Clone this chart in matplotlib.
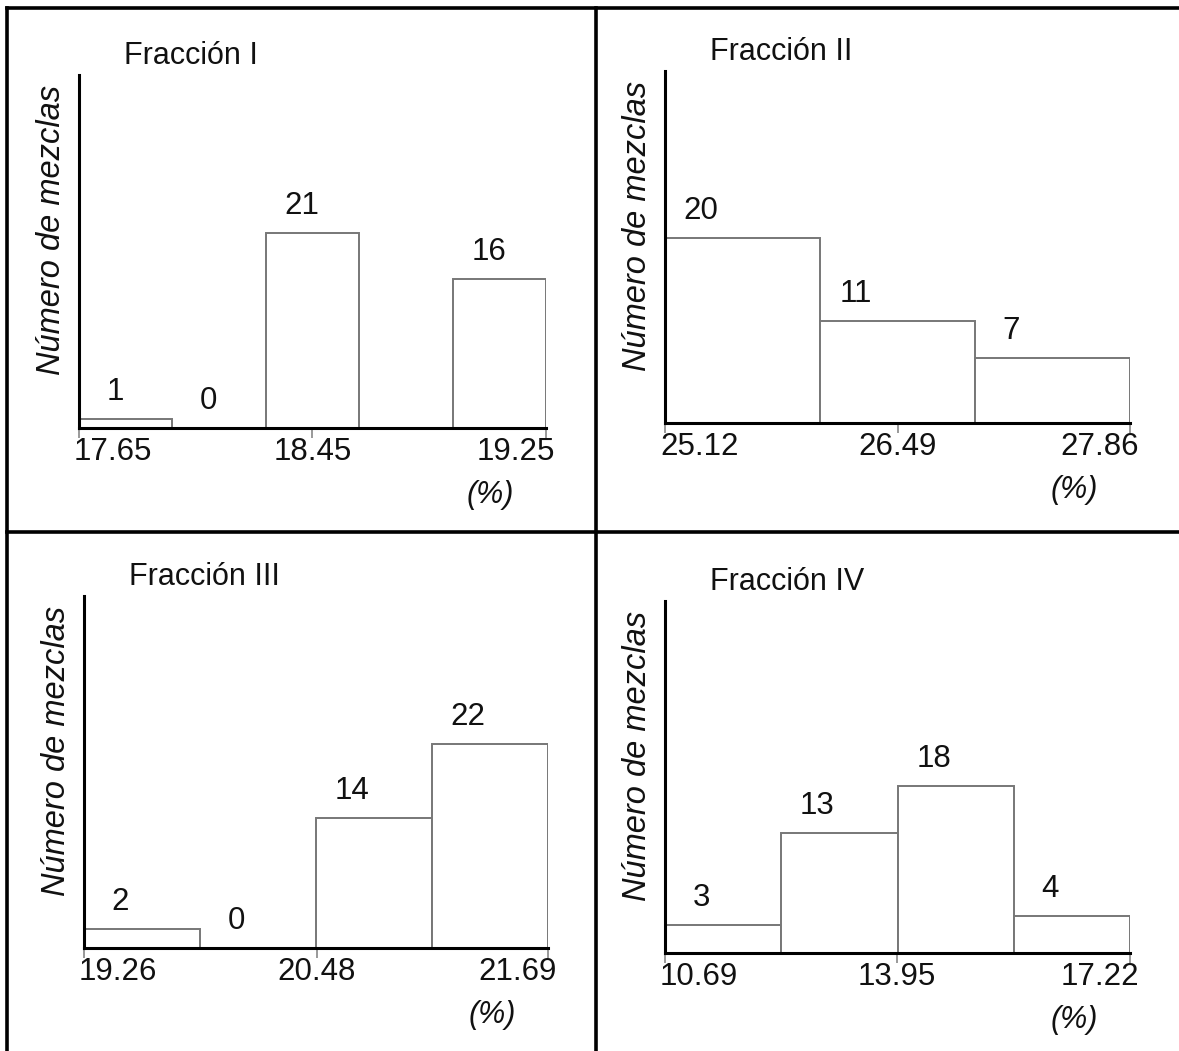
import matplotlib.pyplot as plt
from matplotlib.lines import Line2D

plt.rcParams['font.family'] = ['Liberation Sans', 'DejaVu Sans']
plt.rcParams['font.size'] = 22

# Data for the four fractions
titles = ['Fracción I', 'Fracción II', 'Fracción III', 'Fracción IV']

edges_1 = [17.65, 17.97, 18.29, 18.93]
counts_1 = [1, 0, 21, 16]
width_1 = 0.32
ticks_1 = [17.65, 18.45, 19.25]

edges_2 = [25.12, 26.033, 26.947]
counts_2 = [20, 11, 7]
width_2 = 0.913
ticks_2 = [25.12, 26.49, 27.86]

edges_3 = [19.26, 19.8675, 20.475, 21.0825]
counts_3 = [2, 0, 14, 22]
width_3 = 0.6075
ticks_3 = [19.26, 20.48, 21.69]

edges_4 = [10.69, 12.3225, 13.955, 15.5875]
counts_4 = [3, 13, 18, 4]
width_4 = 1.6325
ticks_4 = [10.69, 13.95, 17.22]

panels = [
    (edges_1, counts_1, width_1, ticks_1),
    (edges_2, counts_2, width_2, ticks_2),
    (edges_3, counts_3, width_3, ticks_3),
    (edges_4, counts_4, width_4, ticks_4),
]

W, H = 1179, 1051
fig = plt.figure(figsize=(W / 100, H / 100), dpi=100)

# axes boxes in pixels (left, top, right, bottom)
boxes = [(79, 75, 546, 428), (665, 71, 1130, 423),
         (84, 596, 548, 948), (665, 601, 1130, 953)]

txt = '#111111'
for (x0, y0, x1, y1), title, (edges, counts, width, ticks) in zip(boxes, titles, panels):
    ax = fig.add_axes([x0 / W, 1 - y1 / H, (x1 - x0) / W, (y1 - y0) / H])
    ax.set_xlim(ticks[0], ticks[-1])
    ax.set_ylim(0, 38)
    ax.bar(edges, counts, width=width, align='edge', facecolor='white',
           edgecolor='#777777', linewidth=1.4, zorder=2)
    for e, c in zip(edges, counts):
        ax.annotate(str(c), xy=(e, c), xytext=(36, 27), textcoords='offset pixels',
                    ha='center', va='center', fontsize=22.5, color=txt)

    for s in ['top', 'right']:
        ax.spines[s].set_visible(False)
    ax.spines['left'].set_linewidth(2.2)
    ax.spines['bottom'].set_linewidth(2.2)
    ax.spines['bottom'].set_zorder(3)
    ax.set_yticks([])
    ax.set_xticks(ticks)
    ax.tick_params(axis='x', direction='out', length=7, width=1.2, color='#888888',
                   labelbottom=False)

    aligns = [('left', -5), ('center', 0), ('right', 9)]
    for t, (ha, dx) in zip(ticks, aligns):
        ax.annotate(f'{t:.2f}', xy=(t, 0), xycoords=('data', 'axes fraction'),
                    xytext=(dx, -9), textcoords='offset pixels',
                    ha=ha, va='top', fontsize=22.5, color=txt)
    ax.annotate('(%)', xy=(ticks[-1], 0), xycoords=('data', 'axes fraction'),
                xytext=(-56, -52), textcoords='offset pixels',
                ha='center', va='top', fontsize=22, style='italic', color=txt)

    ax.text(45 / (x1 - x0), 1 + 19 / (y1 - y0), title, transform=ax.transAxes,
            fontsize=22, color=txt, ha='left', va='center')

    ax.text(-27 / (x1 - x0), 0.56, 'Número de mezclas', transform=ax.transAxes,
            rotation=90, ha='center', va='center', fontsize=23.5, style='italic',
            color=txt)

# frame lines around the grid
lw = 2.6
frame = [([7, 1179], [8, 8]), ([7, 7], [8, 1051]), ([596, 596], [8, 1051]),
         ([7, 1179], [532, 532])]
for xs, ys in frame:
    fig.add_artist(Line2D([x / W for x in xs], [1 - y / H for y in ys],
                          color='black', linewidth=lw, transform=fig.transFigure))

fig.savefig('out.png', dpi=100, facecolor='white')
